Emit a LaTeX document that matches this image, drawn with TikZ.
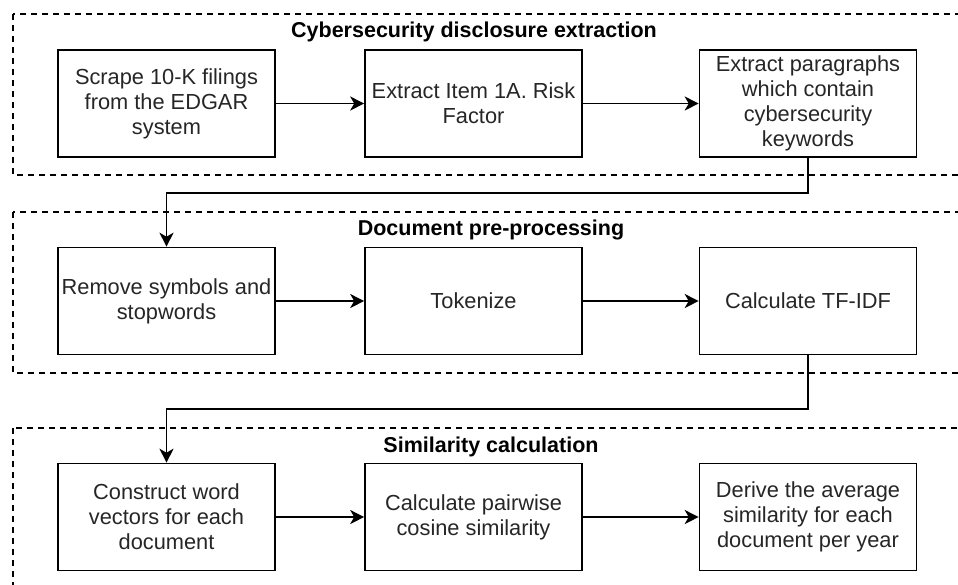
\documentclass[tikz,border=0pt]{standalone}
\usepackage{fontspec}
\setmainfont{Liberation Sans}
\usetikzlibrary{arrows.meta}
\begin{document}
\begin{tikzpicture}[x=1pt,y=-1pt,
  box/.style={draw, line width=1.6pt, minimum width=217pt, minimum height=107pt, inner sep=0pt, align=center, font=\fontsize{21.8}{25}\selectfont, text=black!85},
  grp/.style={draw, dash pattern=on 6pt off 5pt, line width=1.6pt},
  arr/.style={-{Stealth[length=14pt,width=14pt,inset=4pt]}, line width=1.5pt},
  title/.style={font=\bfseries\fontsize{21.5}{24}\selectfont}]
\useasboundingbox (0,0) rectangle (958,584);
\clip (0,0) rectangle (958,584);
\fill[white] (0,0) rectangle (958,584);
% groups
\draw[grp] (13,14) rectangle (975,175);
\draw[grp] (13,212) rectangle (975,373);
\draw[grp] (13,428) rectangle (975,620);
\node[title] (t1) at (474,32) {Cybersecurity disclosure extraction};
\node[title] (t2) at (491,230) {Document pre-processing};
\node[title] (t3) at (491,447) {Similarity calculation};
% boxes
\node[box] (b1) at (166.5,103.5) {Scrape 10-K filings\\from the EDGAR\\system};
\node[box] (b2) at (473.5,103.5) {Extract Item 1A. Risk\\Factor};
\node[box] (b3) at (808,103.5) {Extract paragraphs\\which contain\\cybersecurity\\keywords};
\node[box] (b4) at (166.5,301) {Remove symbols and\\stopwords};
\node[box] (b5) at (473.5,301) {Tokenize};
\node[box] (b6) at (808,301) {Calculate TF-IDF};
\node[box] (b7) at (166.5,517) {Construct word\\vectors for each\\document};
\node[box] (b8) at (473.5,517) {Calculate pairwise\\cosine similarity};
\node[box] (b9) at (808,517) {Derive the average\\similarity for each\\document per year};
% arrows
\draw[arr] (b1) -- (b2);
\draw[arr] (b2) -- (b3);
\draw[arr] (b4) -- (b5);
\draw[arr] (b5) -- (b6);
\draw[arr] (b7) -- (b8);
\draw[arr] (b8) -- (b9);
\draw[arr] (b3.south) -- (b3.south |- 0,193) -| (b4.north);
\draw[arr] (b6.south) -- (b6.south |- 0,409) -| (b7.north);
\end{tikzpicture}
\end{document}
